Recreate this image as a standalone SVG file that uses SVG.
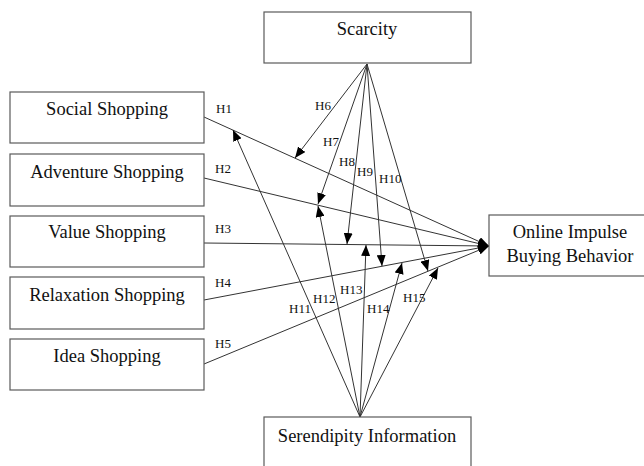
<svg xmlns="http://www.w3.org/2000/svg" width="644" height="466" viewBox="0 0 644 466">
<style>
.box{fill:#fff;stroke:#5a5a5a;stroke-width:1.2}
.t{font-family:"Liberation Serif","Times New Roman",serif;font-size:18.5px;fill:#111;text-anchor:middle}
.h{font-family:"Liberation Serif","Times New Roman",serif;font-size:13px;fill:#111}
.c{stroke:#333;stroke-width:1;fill:none;marker-end:url(#ah)}
</style>
<defs>
<marker id="ah" markerUnits="userSpaceOnUse" markerWidth="11" markerHeight="9" refX="11" refY="4.5" orient="auto">
<path d="M0,0 L11,4.5 L0,9 z" fill="#000"/>
</marker>
</defs>
<rect width="644" height="466" fill="#fff"/>
<g id="connectors">
<line class="c" x1="204" y1="117" x2="489" y2="246"/>
<line class="c" x1="204" y1="178" x2="489" y2="246"/>
<line class="c" x1="204" y1="243" x2="489" y2="246"/>
<line class="c" x1="204" y1="300" x2="489" y2="246"/>
<line class="c" x1="204" y1="364" x2="489" y2="246"/>
<line class="c" x1="367" y1="64" x2="295" y2="158"/>
<line class="c" x1="367" y1="64" x2="318" y2="204"/>
<line class="c" x1="367" y1="64" x2="347" y2="244"/>
<line class="c" x1="367" y1="64" x2="382" y2="266"/>
<line class="c" x1="367" y1="64" x2="428" y2="271"/>
<line class="c" x1="360" y1="417" x2="233" y2="130"/>
<line class="c" x1="360" y1="417" x2="318" y2="206"/>
<line class="c" x1="360" y1="417" x2="366" y2="245"/>
<line class="c" x1="360" y1="417" x2="402" y2="263"/>
<line class="c" x1="360" y1="417" x2="438" y2="268"/>
<text class="h" x="216" y="113">H1</text>
<text class="h" x="215" y="173">H2</text>
<text class="h" x="215" y="233">H3</text>
<text class="h" x="215" y="287">H4</text>
<text class="h" x="215" y="348">H5</text>
<text class="h" x="315" y="110">H6</text>
<text class="h" x="323" y="146">H7</text>
<text class="h" x="339" y="166">H8</text>
<text class="h" x="357" y="176">H9</text>
<text class="h" x="379" y="183">H10</text>
<text class="h" x="289" y="313">H11</text>
<text class="h" x="313" y="303">H12</text>
<text class="h" x="340" y="294">H13</text>
<text class="h" x="367" y="313">H14</text>
<text class="h" x="403" y="302">H15</text>
</g>
<g id="scarcity"><rect class="box" x="264" y="12" width="207" height="51"/><text class="t" x="367" y="35">Scarcity</text></g>
<g id="social"><rect class="box" x="10" y="92" width="194" height="51"/><text class="t" x="107" y="115">Social Shopping</text></g>
<g id="adventure"><rect class="box" x="10" y="154" width="194" height="52"/><text class="t" x="107" y="178">Adventure Shopping</text></g>
<g id="value"><rect class="box" x="10" y="216" width="194" height="51"/><text class="t" x="107" y="238">Value Shopping</text></g>
<g id="relaxation"><rect class="box" x="10" y="277" width="194" height="52"/><text class="t" x="107" y="301">Relaxation Shopping</text></g>
<g id="idea"><rect class="box" x="10" y="339" width="194" height="51"/><text class="t" x="107" y="362">Idea Shopping</text></g>
<g id="impulse"><rect class="box" x="489" y="215" width="170" height="61"/><text class="t" x="570" y="238">Online Impulse</text><text class="t" x="570" y="262">Buying Behavior</text></g>
<g id="serendipity"><rect class="box" x="264" y="417" width="207" height="60"/><text class="t" x="367" y="442">Serendipity Information</text></g>
</svg>
